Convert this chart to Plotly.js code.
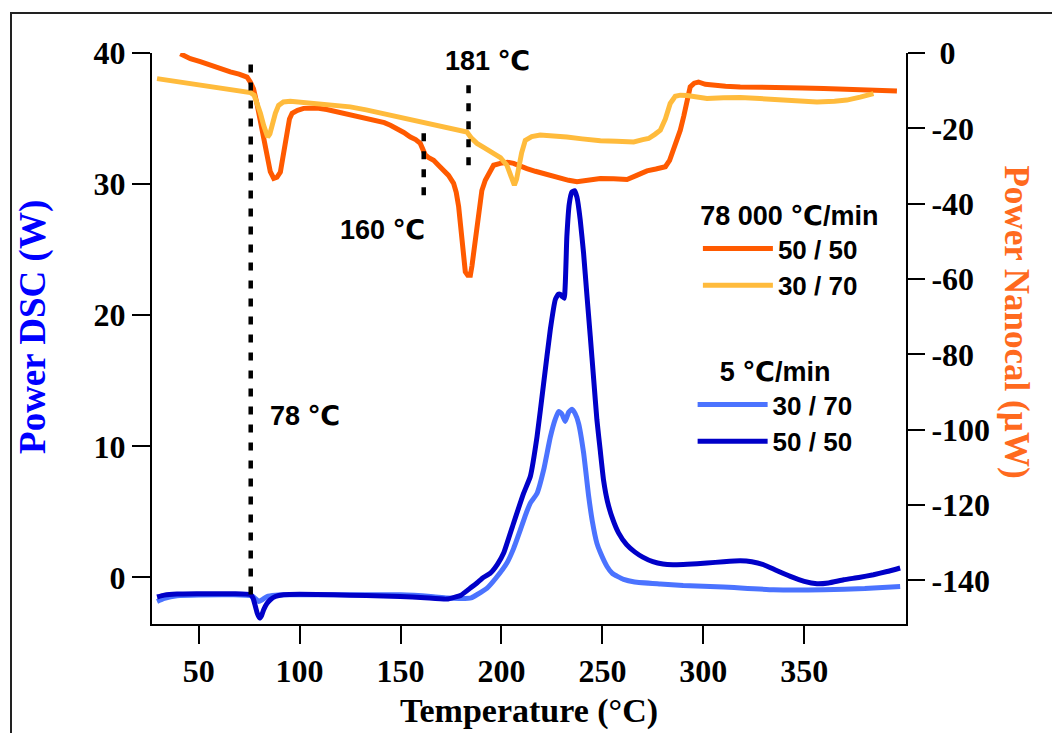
<!DOCTYPE html>
<html>
<head>
<meta charset="utf-8">
<script src="https://cdn.plot.ly/plotly-3.0.1.min.js"></script>
<style>html,body{margin:0;padding:0;background:#fff;}#chart{width:1052px;height:733px;}</style>
</head>
<body>
<div id="chart"></div>
<script>
// ---- Nanocal, 78 000 °C/min, 50/50 (right axis, µW)
const tempNano5050 = [40.9,45.9,50.8,55.8,60.8,65.7,70.0,74.0,75.6,77.2,78.9,80.6,82.3,83.9,85.5,87.2,88.8,90.5,92.2,93.8,95.0,96.3,99.0,102,108.6,113.5,118.5,123.4,128.4,133.4,138.4,142,145,148,151.6,154.9,157.5,159.8,161.5,162.3,164,166.4,168.8,171.3,173.8,176.3,177.6,178.8,179.7,180.5,181.3,182.1,183.3,184.6,185.4,186.2,187.4,188.7,190.3,192,194,196.1,199.4,203,206,209,212.6,216.8,220.9,225,229.1,233.3,237.4,243,249,255.6,262.2,267,272.1,276.5,281.2,283.3,285.3,287,288.6,290.3,291.9,293.5,295.5,297.6,301,305.1,311,318.3,328,338.1,349,359.6,370,381,390,395.9];
const powerNano5050 = [-0.2,-1.5,-2.3,-3.3,-4.2,-5.0,-5.6,-6.4,-7.7,-9.5,-13.5,-18.3,-23.5,-28,-31.5,-33.3,-33.0,-31.6,-26.5,-21,-17.5,-16,-15.2,-14.7,-14.6,-15.0,-15.6,-16.1,-16.7,-17.2,-17.8,-18.5,-19.2,-20.0,-21.1,-22.3,-23.0,-24,-26.0,-27.1,-27.8,-28.5,-29.8,-31.1,-32.5,-34.6,-37.0,-40.8,-45.5,-50.5,-55.0,-58.1,-59.0,-59.0,-56.5,-53.2,-47,-40.8,-36.5,-33.8,-31.5,-29.8,-29.3,-29.0,-29.3,-30.0,-30.7,-31.4,-32,-32.8,-33.3,-33.8,-34.2,-33.8,-33.3,-33.4,-33.6,-32.5,-31.3,-30.8,-30.2,-28.5,-25.8,-23.0,-20.5,-16.8,-13.4,-9.0,-8.0,-7.7,-8.3,-8.6,-8.8,-9.0,-9.2,-9.2,-9.3,-9.4,-9.6,-9.7,-9.9,-10.1];

// ---- Nanocal, 78 000 °C/min, 30/70 (right axis, µW)
const tempNano3070 = [29.4,36,42.6,50,59.1,67,75.6,77.5,78.9,80.6,82.2,84.2,85.3,86.4,88,89.6,92,95.4,101,108.6,116,125.1,133,141.6,149.9,158,166.4,174,182.9,185,187.9,192,196.1,199.5,202.7,204.8,206.4,207.5,208.5,210,211.8,215,219.2,225,232.4,240,249,257,265.5,270,272.9,276,278.7,281.2,283.6,286.1,288.6,292,295,301.8,310,318.3,328,338.1,347,356.3,365,371.1,377.7,384.3];
const powerNano3070 = [-6.8,-7.3,-7.9,-8.4,-9.3,-9.9,-10.5,-11.2,-13,-16,-19.2,-22.3,-21.5,-19.2,-16,-13.9,-13.0,-12.8,-13.1,-13.4,-13.8,-14.3,-15.1,-16.1,-17.0,-18.0,-19.2,-20.0,-21.0,-22.5,-24,-25.3,-26.7,-27.8,-29.8,-32.5,-35.1,-33.5,-30.2,-26.5,-23.2,-22.2,-21.8,-21.9,-22.3,-22.8,-23.3,-23.4,-23.6,-23.0,-22.7,-21.6,-20.5,-17.5,-13.4,-11.5,-11.2,-11.3,-11.6,-12.1,-11.9,-11.8,-12.1,-12.4,-12.7,-13.0,-12.8,-12.5,-11.7,-10.8];

// ---- DSC, 5 °C/min, 30/70 (left axis, W)
const tempDSC3070 = [29.4,33,39.3,50,67.3,76.4,78,79.7,81.5,83.9,88,92.1,120,149.9,165,173,180,185,188,192.9,197,202.7,206,209.3,212,214.3,217.6,220.9,224.2,226.5,228.3,229.8,231.6,233.3,234.9,236.5,238.2,240.7,243.2,245,247.3,249,252.3,255,260.5,266,278.7,290,310,334.8,359.6,380,397.5];
const powerDSC3070 = [-1.83,-1.6,-1.39,-1.33,-1.32,-1.40,-1.6,-1.83,-1.7,-1.45,-1.35,-1.32,-1.32,-1.32,-1.45,-1.57,-1.6,-1.55,-1.3,-0.81,-0.1,1.1,2.2,3.6,4.8,5.67,6.4,8.2,10.7,12.0,12.65,12.5,11.9,12.6,12.83,12.5,11.76,9.5,6.2,4.3,2.6,1.9,0.84,0.3,-0.15,-0.35,-0.5,-0.62,-0.73,-0.94,-0.94,-0.85,-0.69];

// ---- DSC, 5 °C/min, 50/50 (left axis, W)
const tempDSC5050 = [29.4,33,39.3,50,67.3,75.6,77,78.1,79.2,80.2,81.2,82.2,83.8,85.5,88,92.1,100,116.9,133,149.9,162,173,180,184.6,188,191,194.5,198,201.1,206,211,214.3,217.6,220.9,224.2,226.7,228.2,229.1,230.3,231.1,232.4,233.6,234.9,236.2,237.4,239,240.7,242.3,244,245.7,247.3,249,250.6,252.5,255,258,262,266,270,275,280,285,292,301.8,310,318.3,324,329.9,336,343.1,350,356.3,362,369.5,377,384.3,391,397.5];
const powerDSC5050 = [-1.49,-1.35,-1.27,-1.25,-1.24,-1.30,-1.6,-2.2,-2.8,-3.1,-2.9,-2.46,-2.0,-1.7,-1.45,-1.32,-1.28,-1.32,-1.38,-1.45,-1.55,-1.65,-1.35,-0.81,-0.4,0.0,0.33,1.0,1.86,4.14,6.43,7.7,10.7,14.8,18.9,21.2,21.6,21.6,21.4,21.3,26,28.5,29.4,29.5,29,27.3,24.7,21.6,18.4,15.1,12,9.6,7.4,5.8,4.5,3.4,2.5,1.95,1.55,1.2,1.02,0.97,1.0,1.1,1.2,1.27,1.2,0.97,0.55,0.08,-0.3,-0.48,-0.42,-0.18,0.0,0.21,0.45,0.72];

// ---- tick labels and annotations
const xTicks = [50,100,150,200,250,300,350];
const yTicks = [0,10,20,30,40];
const y2Ticks = [-140,-120,-100,-80,-60,-40,-20,0];
const y2TickText = ['-140','-120','-100','-80','-60','-40','-20','\u00a00'];
const markTemps = [75.8,161.5,183.7];          // dotted marker lines (°C)
const markLabels = ['78 \u2103','160 \u2103','181 \u2103'];

const serif = 'Liberation Serif, Times New Roman, serif';
const sans = 'Liberation Sans, Arial, DejaVu Sans, sans-serif';
const C_ORANGE = '#ff5a00', C_YELLOW = '#ffbb3c', C_LBLUE = '#4b73ff', C_DBLUE = '#0000c8';

const traces = [
  {x: tempNano5050, y: powerNano5050, yaxis: 'y2', name: '50 / 50', mode: 'lines', legend: 'legend',
   line: {color: C_ORANGE, width: 5}},
  {x: tempNano3070, y: powerNano3070, yaxis: 'y2', name: '30 / 70', mode: 'lines', legend: 'legend',
   line: {color: C_YELLOW, width: 5}},
  {x: tempDSC3070, y: powerDSC3070, yaxis: 'y', name: '30 / 70', mode: 'lines', legend: 'legend2',
   line: {color: C_LBLUE, width: 5, shape: 'spline', smoothing: 0.4}},
  {x: tempDSC5050, y: powerDSC5050, yaxis: 'y', name: '50 / 50', mode: 'lines', legend: 'legend2',
   line: {color: C_DBLUE, width: 5, shape: 'spline', smoothing: 0.4}}
];

const dot = {color: '#000', width: 4.5, dash: '8px,10px'};
const shapes = [
  {type: 'line', xref: 'x', yref: 'y', x0: markTemps[0], x1: markTemps[0], y0: -1.3, y1: 39.8, line: dot},
  {type: 'line', xref: 'x', yref: 'y2', x0: markTemps[1], x1: markTemps[1], y0: -37.8, y1: -20.0, line: dot},
  {type: 'line', xref: 'x', yref: 'y2', x0: markTemps[2], x1: markTemps[2], y0: -29.8, y1: -7.7, line: dot},
  {type: 'rect', xref: 'paper', yref: 'paper', x0: -0.187, x1: 1.5, y0: -0.5, y1: 1.07,
   line: {color: '#222', width: 2}, fillcolor: 'rgba(0,0,0,0)'}
];

const labFont = {family: sans, size: 27, color: '#000', weight: 'bold'};
const annotations = [
  {xref: 'x', yref: 'y', x: 102.8, y: 12.3, text: markLabels[0], showarrow: false, font: labFont},
  {xref: 'x', yref: 'y', x: 141.2, y: 26.5, text: markLabels[1], showarrow: false, font: labFont},
  {xref: 'x', yref: 'y', x: 193, y: 39.4, text: markLabels[2], showarrow: false, font: labFont},
  {xref: 'paper', yref: 'paper', x: -0.1885, y: 0.52, text: 'Power DSC (W)', textangle: -90, showarrow: false,
   font: {family: serif, size: 37, color: '#0000ff', weight: 'bold'}},
  {xref: 'paper', yref: 'paper', x: 1.175, y: 0.529, text: 'Power Nanocal (\u00b5W)', textangle: 90, showarrow: false,
   font: {family: serif, size: 35, color: '#ff6a1e', weight: 'bold'}}
];

const tickFont = {family: serif, size: 32, color: '#000', weight: 'bold'};
const legFont = {family: sans, size: 26, color: '#000', weight: 'bold'};
const legTitleFont = {family: sans, size: 27, color: '#000', weight: 'bold'};

const layout = {
  width: 1052, height: 733,
  margin: {l: 152, r: 146, t: 53, b: 109, pad: 0},
  paper_bgcolor: '#fff', plot_bgcolor: '#fff',
  showlegend: true,
  xaxis: {range: [26.9, 400.4], tickvals: xTicks, ticks: 'outside', ticklen: 18, tickwidth: 2, tickcolor: '#000',
    showline: true, linewidth: 2, linecolor: '#000', showgrid: false, zeroline: false, tickfont: tickFont,
    title: {text: 'Temperature (\u00b0C)', font: {family: serif, size: 34, color: '#000', weight: 'bold'}, standoff: 10}},
  yaxis: {range: [-3.55, 40], tickvals: yTicks, ticks: 'outside', ticklen: 18, tickwidth: 2, tickcolor: '#000',
    showline: true, linewidth: 2, linecolor: '#000', showgrid: false, zeroline: false, tickfont: tickFont},
  yaxis2: {range: [-151.6, 0], overlaying: 'y', side: 'right', tickvals: y2Ticks, ticktext: y2TickText,
    ticks: 'outside', ticklen: 17, tickwidth: 2, tickcolor: '#000',
    showline: true, linewidth: 2, linecolor: '#000', showgrid: false, zeroline: false, tickfont: tickFont},
  legend: {x: 0.724, y: 0.76, xanchor: 'left', yanchor: 'top', bgcolor: 'rgba(0,0,0,0)', borderwidth: 0,
    itemwidth: 70, font: legFont, title: {text: '78 000 \u2103/min', font: legTitleFont, side: 'top center'},
    tracegroupgap: 0},
  legend2: {x: 0.717, y: 0.487, xanchor: 'left', yanchor: 'top', bgcolor: 'rgba(0,0,0,0)', borderwidth: 0,
    itemwidth: 70, font: legFont, title: {text: '5 \u2103/min', font: legTitleFont, side: 'top center'},
    tracegroupgap: 0},
  shapes: shapes,
  annotations: annotations
};

Plotly.newPlot('chart', traces, layout, {displayModeBar: false, staticPlot: true});
</script>
</body>
</html>
